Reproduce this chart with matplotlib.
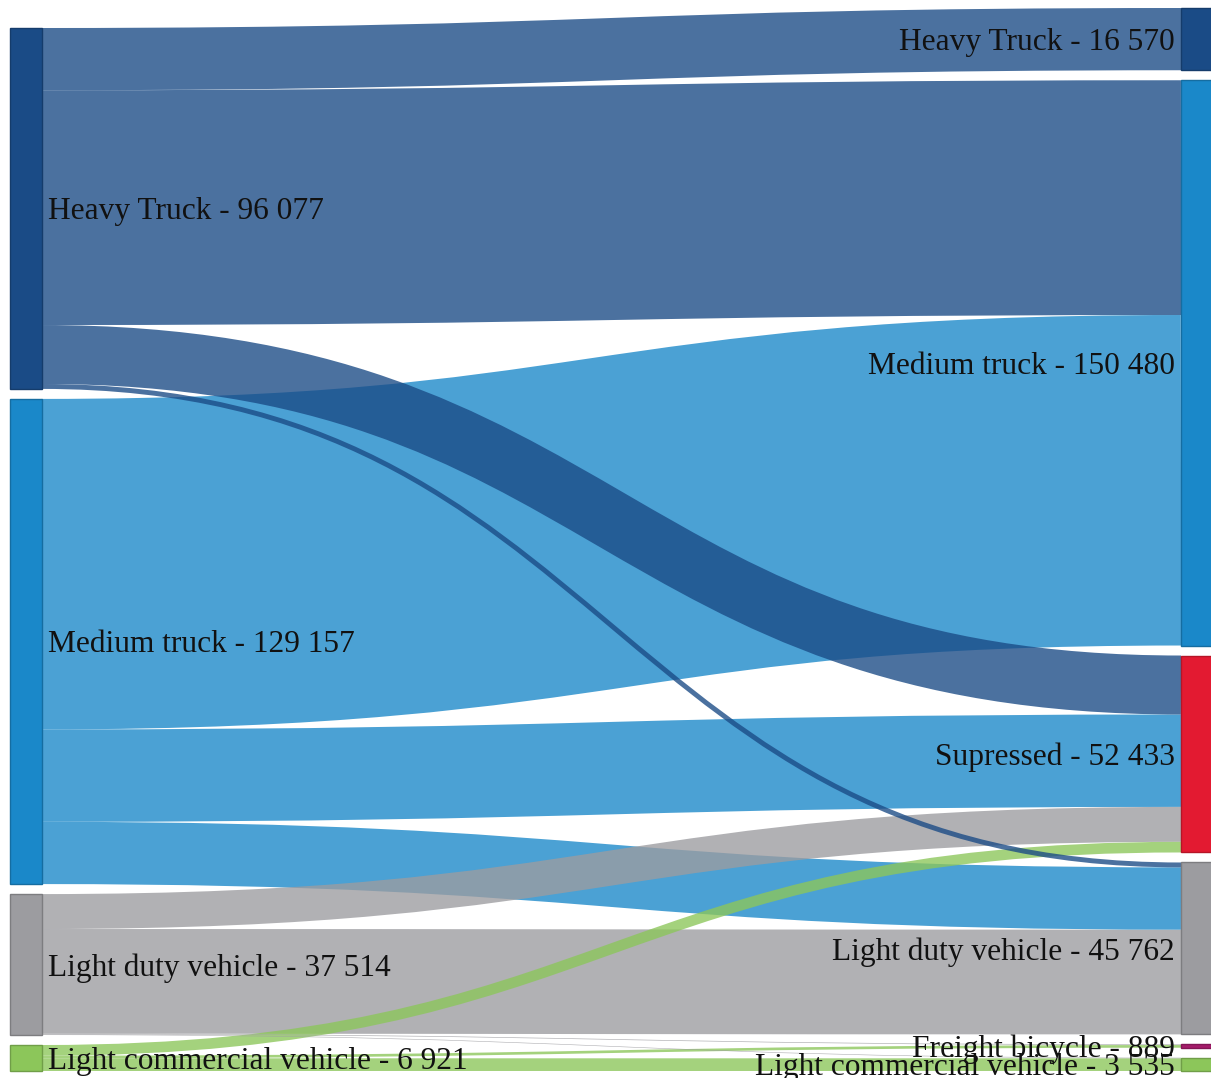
import matplotlib
matplotlib.use("Agg")
import matplotlib.pyplot as plt
from matplotlib.path import Path
from matplotlib.patches import PathPatch, Rectangle
from matplotlib.colors import to_rgb

# ---------------- data ----------------
source_names = ["Heavy Truck", "Medium truck", "Light duty vehicle", "Light commercial vehicle"]
target_names = ["Heavy Truck", "Medium truck", "Supressed", "Light duty vehicle",
                "Freight bicycle", "Light commercial vehicle"]

# flows from each source to the targets (same order as target_names)
flow_heavy_truck = [16570, 62500, 15700, 1307, 0, 0]
flow_medium_truck = [0, 87980, 24600, 16577, 0, 0]
flow_light_duty = [0, 0, 9300, 27878, 180, 156]
flow_light_commercial = [0, 0, 2833, 0, 709, 3379]

source_colors = ["#1a4b86", "#1a88c9", "#9c9ca0", "#8cc65a"]
target_colors = ["#1a4b86", "#1a88c9", "#e31a31", "#9c9ca0", "#a51c6b", "#8cc65a"]

flows = [flow_heavy_truck, flow_medium_truck, flow_light_duty, flow_light_commercial]

# ---------------- layout ----------------
W, H = 1211, 1078
node_w = 32
left_x0 = 10
right_x0 = 1181
bottom = 1071
pad = 10
link_alpha = 0.79

src_vals = [sum(f) for f in flows]
tgt_vals = [sum(flows[i][j] for i in range(len(flows))) for j in range(len(target_names))]
total = sum(src_vals)

n_max = max(len(src_vals), len(tgt_vals))
ky = (bottom - 8 - pad * (n_max - 1)) / total


def column_positions(vals):
    h = sum(v * ky for v in vals) + pad * (len(vals) - 1)
    y = bottom - h
    pos = []
    for v in vals:
        pos.append((y, y + v * ky))
        y += v * ky + pad
    return pos


src_pos = column_positions(src_vals)
tgt_pos = column_positions(tgt_vals)

fig = plt.figure(figsize=(W / 100, H / 100), dpi=100)
ax = fig.add_axes([0, 0, 1, 1])
ax.set_xlim(0, W)
ax.set_ylim(H, 0)
ax.axis("off")

# link endpoints
src_off = [p[0] for p in src_pos]
tgt_off = [p[0] for p in tgt_pos]
links = []
src_y = {}
for i in range(len(flows)):
    for j in range(len(target_names)):
        v = flows[i][j]
        if v <= 0:
            continue
        w = v * ky
        src_y[(i, j)] = src_off[i] + w / 2
        src_off[i] += w
for j in range(len(target_names)):
    for i in range(len(flows)):
        v = flows[i][j]
        if v <= 0:
            continue
        w = v * ky
        links.append((v, i, j, src_y[(i, j)], tgt_off[j] + w / 2, w))
        tgt_off[j] += w

x0 = left_x0 + node_w
x1 = right_x0
xm = (x0 + x1) / 2
for v, i, j, ys, yt, w in sorted(links, key=lambda t: -t[0]):
    path = Path([(x0, ys), (xm, ys), (xm, yt), (x1, yt)],
                [Path.MOVETO, Path.CURVE4, Path.CURVE4, Path.CURVE4])
    r, g, b = to_rgb(source_colors[i])
    ax.add_patch(PathPatch(path, fill=False, edgecolor=(r, g, b, link_alpha),
                           lw=max(w, 0.5) * 72 / 100, capstyle="butt", zorder=1))


def darker(c, f=0.8):
    r, g, b = to_rgb(c)
    return (r * f, g * f, b * f)


font = dict(family=["Liberation Serif", "DejaVu Serif"], fontsize=22.6, color="#111111")

for k, name in enumerate(source_names):
    y0, y1 = src_pos[k]
    ax.add_patch(Rectangle((left_x0, y0), node_w, y1 - y0, facecolor=source_colors[k],
                           edgecolor=darker(source_colors[k]), lw=1, zorder=2))
    ax.text(left_x0 + node_w + 6, (y0 + y1) / 2,
            f"{name} - {src_vals[k]:,}".replace(",", " "),
            ha="left", va="center_baseline", zorder=3, **font)

for k, name in enumerate(target_names):
    y0, y1 = tgt_pos[k]
    ax.add_patch(Rectangle((right_x0, y0), node_w, y1 - y0, facecolor=target_colors[k],
                           edgecolor=darker(target_colors[k]), lw=1, zorder=2))
    ax.text(right_x0 - 6, (y0 + y1) / 2,
            f"{name} - {tgt_vals[k]:,}".replace(",", " "),
            ha="right", va="center_baseline", zorder=3, **font)

fig.savefig("out.png", dpi=100, facecolor="white")
